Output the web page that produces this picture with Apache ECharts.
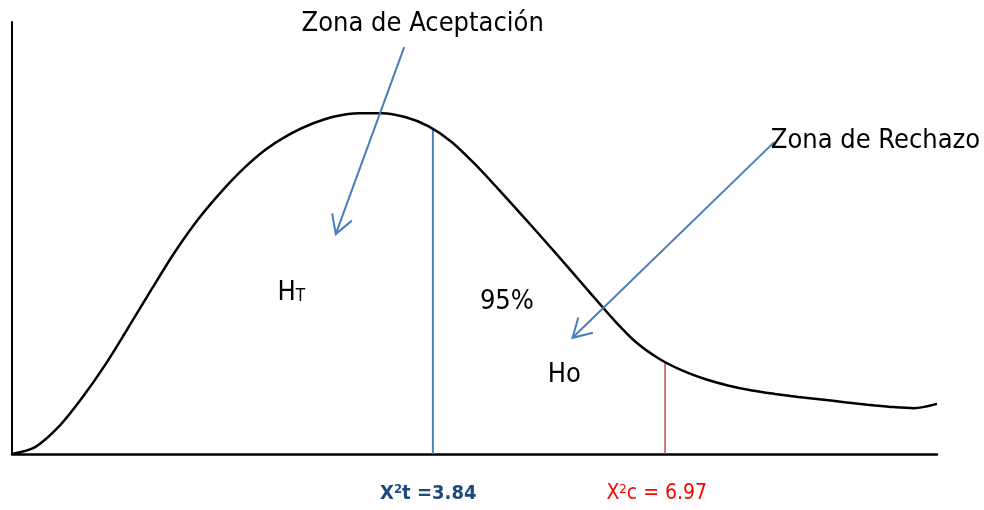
<!DOCTYPE html>
<html>
<head>
<meta charset="utf-8">
<script src="https://cdn.jsdelivr.net/npm/echarts@6/dist/echarts.min.js"></script>
<style>
  html, body { margin: 0; padding: 0; background: #fff; }
  #chart { width: 984px; height: 510px; }
</style>
</head>
<body>
<div id="chart"></div>
<script>
// curva (eje x 0-100, eje y 0-100)
const curveX = [0, 2.5, 5, 7.5, 10, 12.5, 15, 17.5, 20, 22.5, 25, 27.5, 30, 32.5, 35, 37.5, 40, 42.5, 45, 47.5, 50, 52.5, 55, 57.5, 60, 62.5, 65, 67.5, 70, 72.5, 75, 77.5, 80, 82.5, 85, 87.5, 90, 92.5, 95, 97.5, 100]
const curveY = [0, 1.6, 6.2, 12.8, 20.4, 29.0, 37.8, 46.4, 54.0, 60.4, 66.0, 70.6, 74.0, 76.5, 78.2, 78.9, 78.9, 78.0, 75.9, 72.3, 67.2, 61.5, 55.6, 49.6, 43.5, 37.3, 31.2, 25.8, 22.0, 19.3, 17.3, 15.8, 14.7, 13.9, 13.2, 12.6, 12.0, 11.4, 10.9, 10.6, 11.6]

// valores criticos: X2 tabla y X2 calculado
const criticalX = [45.5, 70.6]
const criticalTop = [75.3, 21.1]
const criticalColor = ['#4f81bd', '#c0504d']

// flechas (inicio -> punta)
const arrowFrom = [[42.4, 94.2], [82.4, 72.2]]
const arrowTo = [[35.0, 50.9], [60.6, 26.9]]

// textos
const labelText = ['Zona de Aceptación', 'Zona de Rechazo', 'H{s|T}', '95%', 'Ho', 'X{sup|2}t =3.84', 'X{sup|2}c = 6.97']
const labelX = [44.4, 93.35, 30.2, 53.5, 59.7, 45.0, 69.7]
const labelY = [99.5, 72.5, 37.3, 35.3, 18.3, -9.2, -9.2]

const FONT = "'Liberation Sans Narrow', 'DejaVu Sans Condensed', sans-serif"

const myChart = echarts.init(document.getElementById('chart'))

const labelStyles = [
  { fontSize: 27, color: '#000' },
  { fontSize: 27, color: '#000' },
  { fontSize: 27, color: '#000' },
  { fontSize: 27, color: '#000' },
  { fontSize: 27, color: '#000' },
  { fontSize: 20, color: '#1f497d', fontWeight: 'bold' },
  { fontSize: 21, color: '#ff0000' }
]

const option = {
  animation: false,
  grid: { left: 12, right: 47, top: 22, bottom: 56 },
  xAxis: {
    type: 'value',
    min: 0,
    max: 100,
    axisLine: { show: true, onZero: false, lineStyle: { color: '#000', width: 2.5 } },
    axisTick: { show: false },
    axisLabel: { show: false },
    splitLine: { show: false }
  },
  yAxis: {
    type: 'value',
    min: 0,
    max: 100,
    axisLine: { show: true, onZero: false, lineStyle: { color: '#000', width: 2 } },
    axisTick: { show: false },
    axisLabel: { show: false },
    splitLine: { show: false }
  },
  series: [
    {
      type: 'line',
      data: curveX.map((x, i) => [x, curveY[i]]),
      smooth: 0.3,
      showSymbol: false,
      lineStyle: { color: '#000', width: 2.5 },
      z: 3
    },
    ...criticalX.map((x, i) => ({
      type: 'line',
      data: [[x, 0], [x, criticalTop[i]]],
      showSymbol: false,
      lineStyle: { color: criticalColor[i], width: i === 0 ? 2 : 1.5 },
      z: 2
    })),
    {
      type: 'custom',
      data: arrowFrom.map((p, i) => [p[0], p[1], arrowTo[i][0], arrowTo[i][1]]),
      renderItem: function(params, api) {
        const a = api.coord([api.value(0), api.value(1)])
        const b = api.coord([api.value(2), api.value(3)])
        const ang = Math.atan2(a[1] - b[1], a[0] - b[0])
        const len = 21
        const spread = Math.PI / 6
        const b1 = [b[0] + len * Math.cos(ang + spread), b[1] + len * Math.sin(ang + spread)]
        const b2 = [b[0] + len * Math.cos(ang - spread), b[1] + len * Math.sin(ang - spread)]
        const style = { stroke: '#4a7ebb', lineWidth: 2, fill: null }
        return {
          type: 'group',
          children: [
            { type: 'line', shape: { x1: a[0], y1: a[1], x2: b[0], y2: b[1] }, style: style },
            { type: 'polyline', shape: { points: [b1, b, b2] }, style: style }
          ]
        }
      },
      clip: false,
      z: 4
    },
    {
      type: 'scatter',
      symbolSize: 1,
      itemStyle: { color: 'rgba(0,0,0,0)', opacity: 1 },
      clip: false,
      data: labelText.map((t, i) => ({
        value: [labelX[i], labelY[i]],
        label: Object.assign({
          show: true,
          position: 'inside',
          formatter: t,
          fontFamily: FONT,
          rich: {
            s: { fontSize: 17, color: '#000', fontFamily: FONT, padding: [7, 0, 0, 0] },
            sup: { fontSize: 13, color: labelStyles[i].color, fontWeight: labelStyles[i].fontWeight || 'normal', fontFamily: FONT, padding: [0, 0, 9, 0] }
          }
        }, labelStyles[i])
      })),
      z: 5
    }
  ]
}
myChart.setOption(option)
</script>
</body>
</html>
